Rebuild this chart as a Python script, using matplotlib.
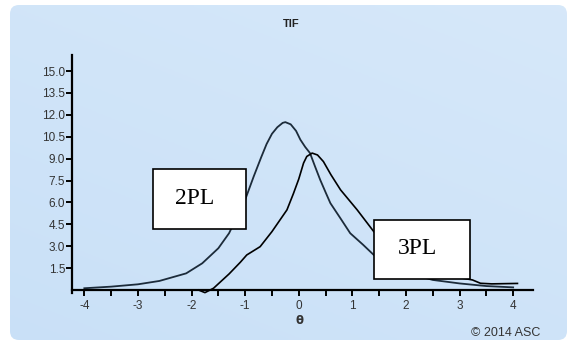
import matplotlib
matplotlib.use("Agg")
import matplotlib.pyplot as plt
import matplotlib.patches as mpatches
import numpy as np

# test information
theta_2pl = [-4.0, -3.5, -3.0, -2.6, -2.1, -1.8, -1.5, -1.3, -1.0, -0.84, -0.7, -0.6,
             -0.5, -0.4, -0.3, -0.25, -0.15, -0.05, 0.03, 0.12, 0.21, 0.3, 0.4, 0.5,
             0.59, 0.78, 0.96, 1.2, 1.4, 1.7, 2.0, 2.5, 3.0, 3.5, 4.0]
info_2pl = [0.12, 0.23, 0.39, 0.62, 1.14, 1.83, 2.86, 3.89, 6.18, 7.78, 9.1, 10.0,
            10.7, 11.15, 11.45, 11.5, 11.35, 10.9, 10.3, 9.8, 9.38, 8.5, 7.55, 6.7,
            5.95, 4.9, 3.89, 3.1, 2.4, 1.7, 1.2, 0.69, 0.45, 0.27, 0.18]

theta_3pl = [-1.87, -1.75, -1.59, -1.3, -1.09, -0.97, -0.72, -0.5, -0.22, -0.1, 0.0,
             0.09, 0.15, 0.25, 0.35, 0.46, 0.6, 0.78, 1.09, 1.4, 1.7, 2.0, 2.5, 3.0,
             3.24, 3.39, 3.6, 4.08]
info_3pl = [0.0, -0.18, 0.12, 1.1, 1.9, 2.4, 2.97, 4.0, 5.49, 6.6, 7.6, 8.7, 9.15,
            9.38, 9.25, 8.8, 7.9, 6.86, 5.49, 4.0, 2.9, 2.1, 1.2, 0.85, 0.69, 0.46,
            0.42, 0.45]

y_ticks = [1.5, 3.0, 4.5, 6.0, 7.5, 9.0, 10.5, 12.0, 13.5, 15.0]
x_ticks = [-4, -3, -2, -1, 0, 1, 2, 3, 4]

W, H = 574, 343
fig = plt.figure(figsize=(W / 100, H / 100), dpi=100)
fig.patch.set_facecolor("white")

# light blue panel with a soft gradient
bg = fig.add_axes([0, 0, 1, 1], zorder=-10)
bg.set_xlim(0, W)
bg.set_ylim(H, 0)
bg.axis("off")
gx = np.linspace(0, 1, 200)
gy = np.linspace(0, 1, 120)
GX, GY = np.meshgrid(gx, gy)
top = np.array([0.84, 0.91, 0.98])
bot = np.array([0.79, 0.88, 0.97])
mix = (0.6 * GY + 0.4 * (1 - GX))[..., None]
img = top * (1 - mix) + bot * mix
im = bg.imshow(img, extent=[10, 567, 340, 5], aspect="auto")
panel = mpatches.FancyBboxPatch((10, 5), 557, 335, boxstyle="round,pad=0,rounding_size=9",
                                transform=bg.transData, facecolor="none", edgecolor="none")
bg.add_patch(panel)
im.set_clip_path(panel)

ax = fig.add_axes([72 / W, 1 - 297.3 / H, 461 / W, 242.3 / H])
ax.patch.set_alpha(0)
ax.plot(theta_2pl, info_2pl, color="#1c2b3a", lw=1.3, solid_joinstyle="round")
ax.plot(theta_3pl, info_3pl, color="black", lw=1.2, solid_joinstyle="round")

ax.set_xlim(-4.23, 4.37)
ax.set_ylim(-0.5, 16.1)
for s in ["top", "right"]:
    ax.spines[s].set_visible(False)
ax.spines["bottom"].set_position(("data", 0))
ax.spines["left"].set_bounds(-0.2, 16.1)
ax.spines["bottom"].set_linewidth(1.6)
ax.spines["left"].set_linewidth(1.6)

ax.set_xticks(x_ticks)
ax.set_xticklabels([str(v) for v in x_ticks])
ax.set_xticks(np.arange(-3.5, 4, 1.0), minor=True)
ax.set_yticks(y_ticks)
ax.set_yticklabels(["%.1f" % v for v in y_ticks])
ax.tick_params(axis="both", which="both", direction="out", length=4, width=1.4,
               color="black", labelsize=8.5, labelcolor="#333333", pad=1)
ax.tick_params(axis="x", which="both", pad=3.5)
for lab in ax.get_xticklabels() + ax.get_yticklabels():
    lab.set_family("Liberation Sans")

fig.text(291 / W, 1 - 24 / H, "TIF", ha="center", va="center", fontsize=8,
         fontweight="bold", family="Liberation Sans", color="#222222")
fig.text(300 / W, 1 - 321 / H, "θ", ha="center", va="center", fontsize=8.5,
         fontweight="bold", family="DejaVu Sans", color="#333333")
fig.text(506 / W, 1 - 333 / H, "© 2014 ASC", ha="center", va="center", fontsize=9,
         family="Liberation Sans", color="#333333")

# label boxes
boxes = [("2PL", 152.7, 169.3, 93, 60), ("3PL", 374.3, 220, 96, 59)]
for txt, bx, by, bw, bh in boxes:
    r = mpatches.Rectangle((bx / W, 1 - (by + bh) / H), bw / W, bh / H,
                           transform=fig.transFigure, facecolor="white",
                           edgecolor="black", lw=1.2, zorder=5)
    fig.add_artist(r)
    fig.text((bx + 0.45 * bw) / W, 1 - (by + bh / 2 - 1) / H, txt, ha="center",
             va="center", fontsize=17, family="Liberation Serif", color="black", zorder=6)

plt.savefig("out.png", dpi=100)
